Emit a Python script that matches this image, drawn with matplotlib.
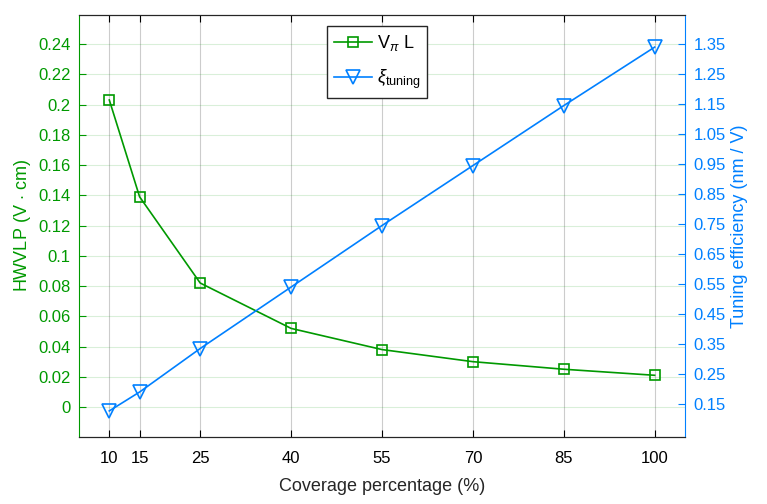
import matplotlib.pyplot as plt
import numpy as np

plt.rcParams['font.family'] = ['Liberation Sans', 'DejaVu Sans']
plt.rcParams['mathtext.fontset'] = 'custom'
plt.rcParams['mathtext.rm'] = 'Liberation Sans'
plt.rcParams['mathtext.it'] = 'Liberation Sans:italic'

coverage = [10, 15, 25, 40, 55, 70, 85, 100]
vpil = [0.203, 0.139, 0.082, 0.052, 0.038, 0.030, 0.025, 0.021]
xi_tuning = [0.127, 0.19, 0.335, 0.54, 0.745, 0.945, 1.145, 1.34]

green = '#009900'
blue = '#0080ff'

fig = plt.figure(figsize=(7.67, 5.04), dpi=100)
ax = fig.add_axes([79/767, 1-437/504, (685-79)/767, (437-15)/504])
ax2 = ax.twinx()

l1, = ax.plot(coverage, vpil, '-s', color=green, mfc='none', ms=7.5, mew=1.2, lw=1.2,
              label=r'V$_{\pi}$ L')
l2, = ax2.plot(coverage, xi_tuning, '-v', color=blue, mfc='none', ms=10, mew=1.2, lw=1.2,
               label=r'$\xi_{\rm tuning}$')

ax.set_xlim(5, 105)
ax.set_xticks(coverage)
ax.set_ylim(-0.0198, 0.2592)
ax.set_yticks(np.arange(0, 0.241, 0.02))
ax.set_yticklabels(['0', '0.02', '0.04', '0.06', '0.08', '0.1', '0.12', '0.14',
                    '0.16', '0.18', '0.2', '0.22', '0.24'])
ax2.set_ylim(0.04, 1.447)
ax2.set_yticks(np.arange(0.15, 1.351, 0.1))
ax2.set_yticklabels(['%.2f' % v for v in np.arange(0.15, 1.351, 0.1)])

ax.grid(axis='y', color=green, alpha=0.15, lw=0.8)
ax.grid(axis='x', color='#cccccc', lw=0.8)
ax.set_axisbelow(True)

ax.tick_params(axis='x', direction='in', length=5, labelsize=12, pad=10, top=True)
ax.tick_params(axis='y', direction='in', length=5, colors=green, labelsize=12, pad=6)
ax2.tick_params(axis='y', direction='in', length=5, colors=blue, labelsize=12, pad=6)

ax.spines['left'].set_color(green)
ax.spines['right'].set_visible(False)
ax2.spines['left'].set_visible(False)
ax2.spines['right'].set_color(blue)
ax2.spines['top'].set_color('#262626')
ax2.spines['bottom'].set_color('#262626')

ax.set_xlabel('Coverage percentage (%)', fontsize=13, color='#262626', labelpad=9)
ax.set_ylabel(r'HWVLP (V $\cdot$ cm)', fontsize=13, color=green)
ax2.set_ylabel('Tuning efficiency (nm / V)', fontsize=13, color=blue)

leg = ax2.legend(handles=[l1, l2], loc='upper left', bbox_to_anchor=(0.409, 0.974),
                 fontsize=13, fancybox=False, edgecolor='#262626', framealpha=1,
                 handlelength=2.1, handletextpad=0.25, borderpad=0.4,
                 borderaxespad=0, labelspacing=0.8)
leg.get_frame().set_linewidth(1.0)

fig.savefig('out.png', dpi=100)
